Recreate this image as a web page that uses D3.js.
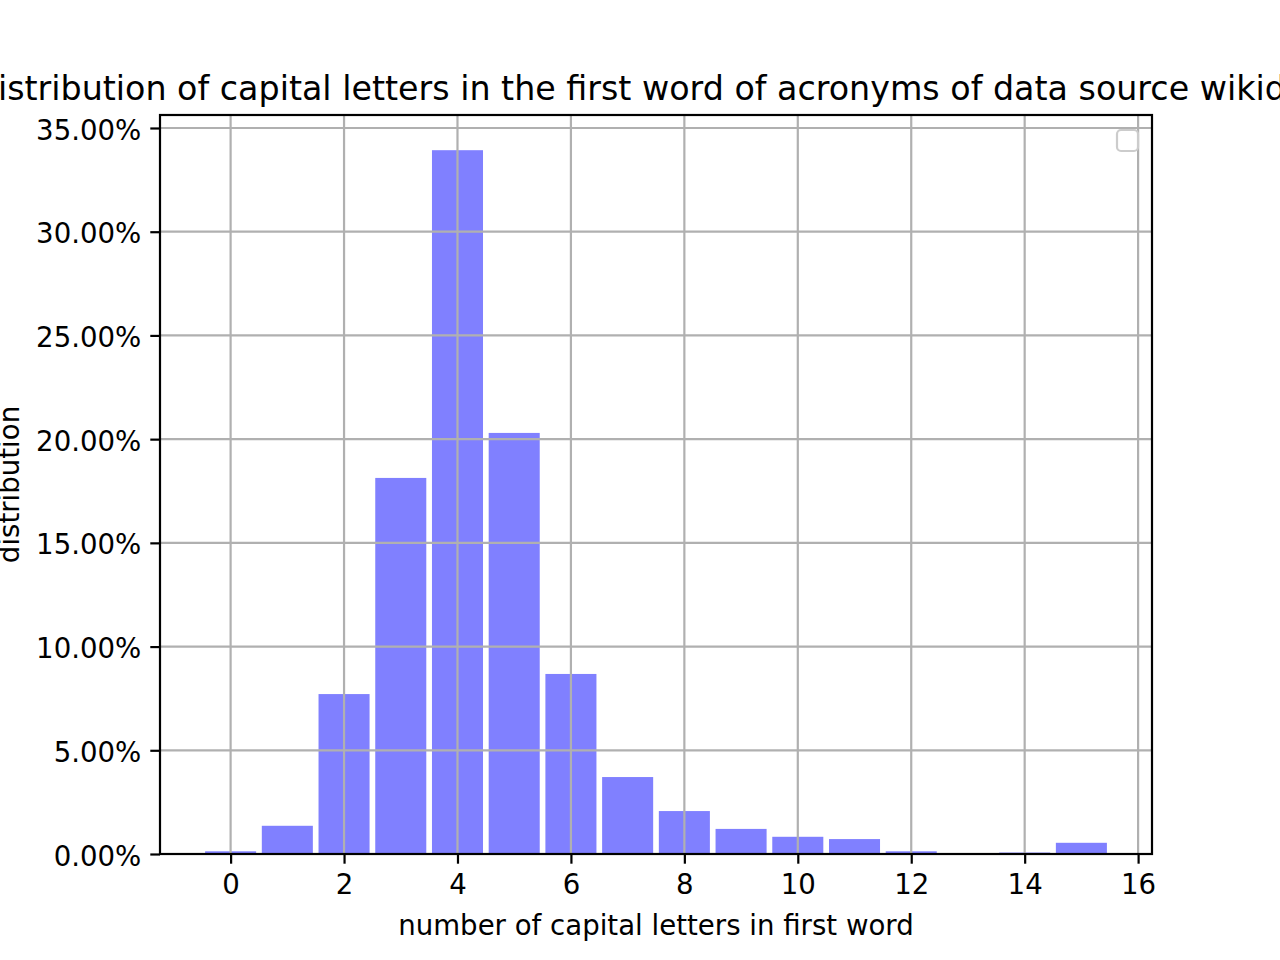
<!DOCTYPE html>
<html>
<head>
<meta charset="utf-8">
<script src="https://cdn.jsdelivr.net/npm/d3@7"></script>
<style>
  html, body { margin: 0; padding: 0; background: #fff; overflow: hidden; }
  svg { display: block; font-family: "DejaVu Sans", sans-serif; }
</style>
</head>
<body>
<svg id="chart" width="1280" height="960"></svg>
<script>
// ---- data ----
const categories = [0, 1, 2, 3, 4, 5, 6, 7, 8, 9, 10, 11, 12, 13, 14, 15];
const shares = [0.0013, 0.0136, 0.0771, 0.1813, 0.3393, 0.2030, 0.0868, 0.0371, 0.0207, 0.0121, 0.0083, 0.0072, 0.0013, 0.0, 0.0007, 0.0054];
const xTicks = [0, 2, 4, 6, 8, 10, 12, 14, 16];
const yTicks = [0, 0.05, 0.10, 0.15, 0.20, 0.25, 0.30, 0.35];
const titleText = "Distribution of capital letters in the first word of acronyms of data source wikidata";
const xLabelText = "number of capital letters in first word";
const yLabelText = "distribution";

// ---- layout ----
const W = 1280, H = 960;
const pL = 160, pR = 1152, pT = 115, pB = 854;
const barWidth = 0.9;
const fs = 27.6;

const svg = d3.select("#chart");

const xMin = d3.min(categories) - barWidth / 2, xMax = d3.max(categories) + barWidth / 2;
const xPad = (xMax - xMin) * 0.05;
const x = d3.scaleLinear().domain([xMin - xPad, xMax + xPad]).range([pL, pR]);
const yMax = d3.max(shares) * 1.05;
const y = d3.scaleLinear().domain([0, yMax]).range([pB, pT]);

// bars
svg.append("g").selectAll("rect").data(categories).join("rect")
  .attr("x", d => x(d - barWidth / 2))
  .attr("width", d => x(d + barWidth / 2) - x(d - barWidth / 2))
  .attr("y", (d, i) => y(shares[i]))
  .attr("height", (d, i) => y(0) - y(shares[i]))
  .attr("fill", "#8080ff");

// grid (drawn above bars)
const grid = svg.append("g").attr("stroke", "#b0b0b0").attr("stroke-width", 2.2);
grid.selectAll("line.v").data(xTicks).join("line").attr("class", "v")
  .attr("x1", d => x(d)).attr("x2", d => x(d)).attr("y1", pT).attr("y2", pB);
grid.selectAll("line.h").data(yTicks).join("line").attr("class", "h")
  .attr("x1", pL).attr("x2", pR).attr("y1", d => y(d)).attr("y2", d => y(d));

// axes
const xAxis = d3.axisBottom(x).tickValues(xTicks).tickSize(9.7).tickPadding(11).tickFormat(d3.format("d"));
const yAxis = d3.axisLeft(y).tickValues(yTicks).tickSize(9.7).tickPadding(9).tickFormat(d => d3.format(".2f")(d * 100) + "%");

const gx = svg.append("g").attr("transform", `translate(0,${pB})`).call(xAxis);
const gy = svg.append("g").attr("transform", `translate(${pL},0)`).call(yAxis);
[gx, gy].forEach(g => {
  g.select(".domain").remove();
  g.selectAll(".tick line").attr("stroke", "#000").attr("stroke-width", 2.2);
  g.selectAll(".tick text").attr("fill", "#000").style("font-size", fs + "px").style("font-family", "DejaVu Sans");
});
gy.selectAll(".tick text").attr("dy", "0.4em");

// spines
svg.append("rect").attr("x", pL).attr("y", pT).attr("width", pR - pL).attr("height", pB - pT)
  .attr("fill", "none").attr("stroke", "#000").attr("stroke-width", 2.2);

// empty legend box
svg.append("rect").attr("x", 1117).attr("y", 130).attr("width", 21).attr("height", 21)
  .attr("rx", 4).attr("ry", 4)
  .attr("fill", "#fff").attr("fill-opacity", 0.8)
  .attr("stroke", "#cccccc").attr("stroke-width", 2.2);

// title
svg.append("text").attr("x", (pL + pR) / 2).attr("y", 100)
  .attr("text-anchor", "middle").style("font-size", "33.3px").attr("fill", "#000")
  .text(titleText);

// x label
svg.append("text").attr("x", (pL + pR) / 2).attr("y", 935)
  .attr("text-anchor", "middle").style("font-size", fs + "px").attr("fill", "#000")
  .text(xLabelText);

// y label
svg.append("text").attr("transform", `translate(19,${(pT + pB) / 2}) rotate(-90)`)
  .attr("text-anchor", "middle").style("font-size", fs + "px").attr("fill", "#000")
  .text(yLabelText);
</script>
</body>
</html>
